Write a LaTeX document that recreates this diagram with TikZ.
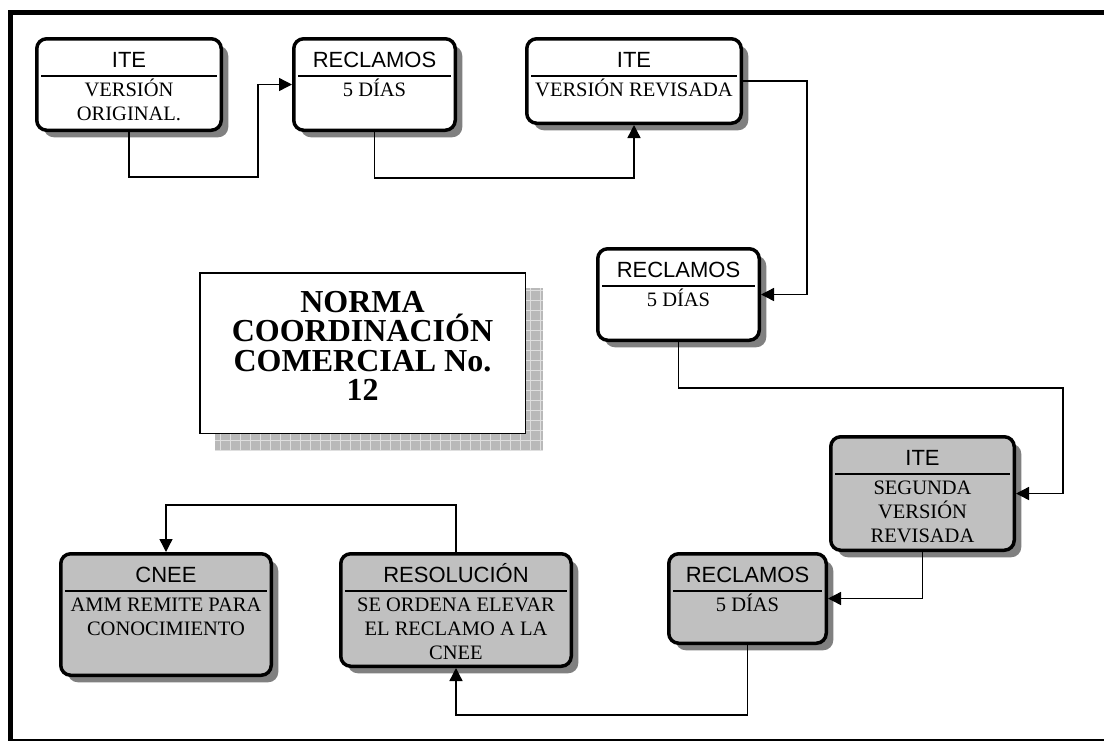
\documentclass[tikz,border=0pt]{standalone}
\usepackage{fontspec}
\setmainfont{Liberation Serif}
\newfontfamily\arialfont{Liberation Sans}
\usetikzlibrary{arrows.meta,shadows}
\definecolor{cardgray}{HTML}{C0C0C0}

\begin{document}
\begin{tikzpicture}[x=1pt, y=-1pt]
    % Define styles
    \tikzset{
        card/.style={
            draw,
            line width=3.5pt,
            rounded corners=10pt,
            drop shadow={shadow xshift=7pt, shadow yshift=-7pt, fill=gray, opacity=1},
            inner sep=0pt
        },
        cardtitle/.style={
            anchor=base,
            inner sep=0pt,
            font=\arialfont\fontsize{22}{26}\selectfont
        },
        cardtext/.style={
            anchor=north,
            inner sep=0pt,
            align=center,
            font=\fontsize{20.5}{24}\selectfont
        },
        cardrule/.style={
            line width=1.8pt
        },
        flow/.style={
            line width=1.4pt,
            -{Triangle[length=13pt, width=13pt]}
        },
        normabox/.style={
            draw,
            line width=1.5pt,
            fill=white,
            minimum width=325.5pt,
            minimum height=160.5pt,
            inner sep=0pt
        },
        normatext/.style={
            align=center,
            inner sep=0pt,
            font=\bfseries\fontsize{32}{29.5}\selectfont
        }
    }
    \useasboundingbox (0,0) rectangle (1104,740);

    % Outer frame
    \begin{scope}
        \clip (0,0) rectangle (1104,740);
        \draw[line width=5pt] (10,12.5) rectangle (1109,741);
    \end{scope}

    % Title with hatched shadow
    \begin{scope}
        \clip (215,288) rectangle (543,451);
        \fill[gray!55] (215,288) rectangle (543,451);
        \draw[gray!25, line width=0.8pt, step=10pt] (215,288) grid (543,451);
    \end{scope}
    \node[normabox] (norma) at (362.5,353) {};
    \node[normatext] (normatxt) at ([yshift=7pt]norma.center) {NORMA\\COORDINACIÓN\\COMERCIAL No.\\12};

    % First version
    \node[card, fill=white, minimum width=184.5pt, minimum height=91.5pt] (ite1) at (129,84.5) {};
    \node[cardtitle] (ite1t) at ([yshift=-30pt]ite1.north) {ITE};
    \draw[cardrule] ([xshift=6pt, yshift=-39pt]ite1.north west) -- ([xshift=-6pt, yshift=-39pt]ite1.north east);
    \node[cardtext] (ite1b) at ([yshift=-39.5pt]ite1.north) {\rule{0pt}{19.5pt}VERSIÓN\\ORIGINAL.};

    % First claims
    \node[card, fill=white, minimum width=161.5pt, minimum height=91.5pt] (rec1) at (374.5,84.5) {};
    \node[cardtitle] (rec1t) at ([yshift=-30pt]rec1.north) {RECLAMOS};
    \draw[cardrule] ([xshift=6pt, yshift=-39pt]rec1.north west) -- ([xshift=-6pt, yshift=-39pt]rec1.north east);
    \node[cardtext] (rec1b) at ([yshift=-39.5pt]rec1.north) {\rule{0pt}{19.5pt}5 DÍAS};

    % Revised version
    \node[card, fill=white, minimum width=214.5pt, minimum height=84.5pt] (ite2) at (634,81) {};
    \node[cardtitle] (ite2t) at ([yshift=-30pt]ite2.north) {ITE};
    \draw[cardrule] ([xshift=6pt, yshift=-39pt]ite2.north west) -- ([xshift=-6pt, yshift=-39pt]ite2.north east);
    \node[cardtext] (ite2b) at ([yshift=-39.5pt]ite2.north) {\rule{0pt}{19.5pt}VERSIÓN REVISADA};

    % Second claims
    \node[card, fill=white, minimum width=161.5pt, minimum height=91.5pt] (rec2) at (678.5,294.5) {};
    \node[cardtitle] (rec2t) at ([yshift=-30pt]rec2.north) {RECLAMOS};
    \draw[cardrule] ([xshift=6pt, yshift=-39pt]rec2.north west) -- ([xshift=-6pt, yshift=-39pt]rec2.north east);
    \node[cardtext] (rec2b) at ([yshift=-39.5pt]rec2.north) {\rule{0pt}{19.5pt}5 DÍAS};

    % Second revised version
    \node[card, fill=cardgray, minimum width=183.5pt, minimum height=113.5pt] (ite3) at (922.5,493.5) {};
    \node[cardtitle] (ite3t) at ([yshift=-30pt]ite3.north) {ITE};
    \draw[cardrule] ([xshift=6pt, yshift=-39pt]ite3.north west) -- ([xshift=-6pt, yshift=-39pt]ite3.north east);
    \node[cardtext] (ite3b) at ([yshift=-39.5pt]ite3.north) {\rule{0pt}{19.5pt}SEGUNDA\\VERSIÓN\\REVISADA};

    % Third claims
    \node[card, fill=cardgray, minimum width=157.5pt, minimum height=89.5pt] (rec3) at (747.5,598.5) {};
    \node[cardtitle] (rec3t) at ([yshift=-30pt]rec3.north) {RECLAMOS};
    \draw[cardrule] ([xshift=6pt, yshift=-39pt]rec3.north west) -- ([xshift=-6pt, yshift=-39pt]rec3.north east);
    \node[cardtext] (rec3b) at ([yshift=-39.5pt]rec3.north) {\rule{0pt}{19.5pt}5 DÍAS};

    % Resolution
    \node[card, fill=cardgray, minimum width=230.5pt, minimum height=112.5pt] (resol) at (456,610) {};
    \node[cardtitle] (resolt) at ([yshift=-30pt]resol.north) {RESOLUCIÓN};
    \draw[cardrule] ([xshift=6pt, yshift=-39pt]resol.north west) -- ([xshift=-6pt, yshift=-39pt]resol.north east);
    \node[cardtext] (resolb) at ([yshift=-39.5pt]resol.north) {\rule{0pt}{19.5pt}SE ORDENA ELEVAR\\EL RECLAMO A LA\\CNEE};

    % CNEE
    \node[card, fill=cardgray, minimum width=210.5pt, minimum height=121.5pt] (cnee) at (166,614.5) {};
    \node[cardtitle] (cneet) at ([yshift=-30pt]cnee.north) {CNEE};
    \draw[cardrule] ([xshift=6pt, yshift=-39pt]cnee.north west) -- ([xshift=-6pt, yshift=-39pt]cnee.north east);
    \node[cardtext] (cneeb) at ([yshift=-39.5pt]cnee.north) {\rule{0pt}{19.5pt}AMM REMITE PARA\\CONOCIMIENTO};

    % Connect boxes
    \draw[flow] (ite1.south) |- (258,177) |- (rec1.west);
    \draw[flow] (rec1.south) -- ++(0,46) -| (ite2.south);
    \draw[flow] (ite2.east) -- ++(64,0) |- (rec2.east);
    \draw[flow] (rec2.south) -- ++(0,46) -| ([xshift=47pt]ite3.east) -- (ite3.east);
    \draw[flow] (ite3.south) |- (rec3.east);
    \draw[flow] (rec3.south) -- ++(0,70) -| (resol.south);
    \draw[flow] (resol.north) -- ++(0,-47) -| (cnee.north);

\end{tikzpicture}
\end{document}
